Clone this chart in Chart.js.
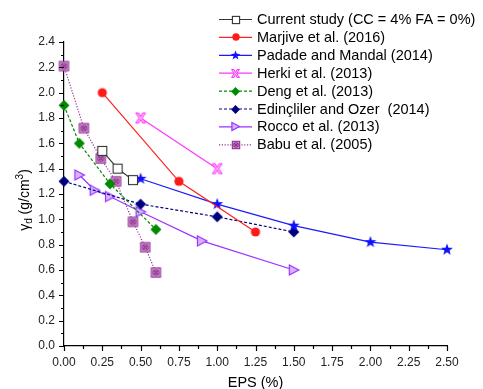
<!DOCTYPE html>
<html>
<head>
<meta charset="utf-8">
<script src="https://cdn.jsdelivr.net/npm/chart.js@4.4.0/dist/chart.umd.min.js"></script>
<style>
    html, body { margin: 0; padding: 0; background: #fff; }
</style>
</head>
<body>
<canvas id="myChart" width="483" height="389"></canvas>
<script>
// values (EPS %, dry unit weight g/cm3)
var currentX = [0.25, 0.35, 0.45];
var currentY = [1.54, 1.40, 1.31];
var marjiveX = [0.25, 0.75, 1.25];
var marjiveY = [2.00, 1.30, 0.90];
var padadeX = [0.5, 1.0, 1.5, 2.0, 2.5];
var padadeY = [1.32, 1.12, 0.95, 0.82, 0.76];
var herkiX = [0.5, 1.0];
var herkiY = [1.80, 1.40];
var dengX = [0, 0.1, 0.3, 0.6];
var dengY = [1.90, 1.60, 1.28, 0.92];
var edinX = [0, 0.5, 1.0, 1.5];
var edinY = [1.30, 1.12, 1.02, 0.90];
var roccoX = [0.1, 0.2, 0.3, 0.5, 0.9, 1.5];
var roccoY = [1.35, 1.23, 1.18, 1.06, 0.83, 0.60];
var babuX = [0, 0.13, 0.24, 0.34, 0.45, 0.53, 0.60];
var babuY = [2.21, 1.72, 1.48, 1.30, 0.98, 0.78, 0.58];

var seriesLabels = [
    "Current study (CC = 4% FA = 0%)",
    "Marjive et al. (2016)",
    "Padade and Mandal (2014)",
    "Herki et al. (2013)",
    "Deng et al. (2013)",
    "Edinçliler and Ozer  (2014)",
    "Rocco et al. (2013)",
    "Babu et al. (2005)"
];

var xTicks = [0, 0.25, 0.5, 0.75, 1.0, 1.25, 1.5, 1.75, 2.0, 2.25, 2.5];
var yTicks = [0, 0.2, 0.4, 0.6, 0.8, 1.0, 1.2, 1.4, 1.6, 1.8, 2.0, 2.2, 2.4];

var FONT = '"Liberation Sans", Arial, sans-serif';

function points(xs, ys) {
    return xs.map(function (x, i) { return {x: x, y: ys[i]}; });
}

// small canvases used as point markers
function marker(size, draw) {
    var c = document.createElement('canvas');
    c.width = size; c.height = size;
    var g = c.getContext('2d');
    g.translate(size / 2, size / 2);
    draw(g);
    return c;
}

function markers(s) {
    return {
        square: marker(Math.round(12 * s), function (g) {
            var h = 4.5 * s;
            g.fillStyle = '#fff'; g.strokeStyle = '#333'; g.lineWidth = 1.1;
            g.fillRect(-h, -h, 2 * h, 2 * h); g.strokeRect(-h, -h, 2 * h, 2 * h);
        }),
        circle: marker(Math.round(12 * s), function (g) {
            g.fillStyle = '#ff1a1a';
            g.beginPath(); g.arc(0, 0, 4.6 * s, 0, Math.PI * 2); g.fill();
        }),
        star: marker(Math.round(16 * s), function (g) {
            g.fillStyle = '#1010ff';
            g.beginPath();
            for (var i = 0; i < 10; i++) {
                var r = (i % 2 ? 2.6 : 6.3) * s;
                var a = -Math.PI / 2 + i * Math.PI / 5;
                g.lineTo(r * Math.cos(a), r * Math.sin(a));
            }
            g.closePath(); g.fill();
        }),
        cross: marker(Math.round(14 * s), function (g) {
            var r = 5 * s, w = 1.3 * s;
            g.fillStyle = '#ffb3ff'; g.strokeStyle = '#ff33ff'; g.lineWidth = 1;
            g.beginPath();
            g.moveTo(-r, -r); g.lineTo(-r + 2.4 * w, -r); g.lineTo(0, -w);
            g.lineTo(r - 2.4 * w, -r); g.lineTo(r, -r); g.lineTo(w * 1.2, 0);
            g.lineTo(r, r); g.lineTo(r - 2.4 * w, r); g.lineTo(0, w);
            g.lineTo(-r + 2.4 * w, r); g.lineTo(-r, r); g.lineTo(-w * 1.2, 0);
            g.closePath(); g.fill(); g.stroke();
        }),
        diamondGreen: marker(Math.round(14 * s), function (g) {
            var r = 5.5 * s;
            g.fillStyle = '#008a00';
            g.beginPath(); g.moveTo(0, -r); g.lineTo(r, 0); g.lineTo(0, r); g.lineTo(-r, 0); g.closePath(); g.fill();
        }),
        diamondNavy: marker(Math.round(14 * s), function (g) {
            var r = 5.5 * s;
            g.fillStyle = '#000080';
            g.beginPath(); g.moveTo(0, -r); g.lineTo(r, 0); g.lineTo(0, r); g.lineTo(-r, 0); g.closePath(); g.fill();
        }),
        triangle: marker(Math.round(14 * s), function (g) {
            g.fillStyle = '#d9b3ff'; g.strokeStyle = '#9933ff'; g.lineWidth = 1.2;
            g.beginPath(); g.moveTo(-4.5 * s, -5 * s); g.lineTo(5 * s, 0); g.lineTo(-4.5 * s, 5 * s); g.closePath();
            g.fill(); g.stroke();
        }),
        boxX: marker(Math.round(13 * s), function (g) {
            var h = 4.6 * s;
            g.fillStyle = '#dba8db'; g.strokeStyle = '#8f2f8f'; g.lineWidth = 1.1;
            g.fillRect(-h, -h, 2 * h, 2 * h); g.strokeRect(-h, -h, 2 * h, 2 * h);
            g.beginPath(); g.arc(0, 0, h * 0.6, 0, Math.PI * 2); g.stroke();
            g.beginPath(); g.moveTo(-h * 0.6, -h * 0.6); g.lineTo(h * 0.6, h * 0.6);
            g.moveTo(h * 0.6, -h * 0.6); g.lineTo(-h * 0.6, h * 0.6); g.stroke();
        })
    };
}

var big = markers(1);
var small = markers(0.8);
var markerKeys = ['square', 'circle', 'star', 'cross', 'diamondGreen', 'diamondNavy', 'triangle', 'boxX'];
var lineColors = ['#333333', '#ff2020', '#1a1aff', '#ff33ff', '#008a00', '#000080', '#9933ff', '#993399'];
var lineDashes = [[], [], [], [], [3, 2], [3, 2], [], [1.2, 1.6]];
var seriesPoints = [
    points(currentX, currentY), points(marjiveX, marjiveY), points(padadeX, padadeY),
    points(herkiX, herkiY), points(dengX, dengY), points(edinX, edinY),
    points(roccoX, roccoY), points(babuX, babuY)
];

var datasets = seriesLabels.map(function (label, i) {
    return {
        label: label,
        data: seriesPoints[i],
        borderColor: lineColors[i],
        backgroundColor: lineColors[i],
        borderWidth: 1.2,
        borderDash: lineDashes[i],
        pointStyle: big[markerKeys[i]],
        legendMarker: small[markerKeys[i]],
        tension: 0,
        clip: false
    };
});

// tick marks (major + minor) along both axes
var tickPlugin = {
    id: 'tickMarks',
    afterDraw: function (chart) {
        var ctx = chart.ctx, xs = chart.scales.x, ys = chart.scales.y;
        var area = chart.chartArea;
        ctx.save();
        ctx.strokeStyle = '#000';
        ctx.lineWidth = 1.2;
        ctx.beginPath();
        for (var i = 0; i <= 20; i++) {
            var px = Math.round(xs.getPixelForValue(i * 0.125)) + 0.5;
            ctx.moveTo(px, area.bottom);
            ctx.lineTo(px, area.bottom + (i % 2 ? 3 : 5));
        }
        for (var j = 0; j <= 24; j++) {
            var py = Math.round(ys.getPixelForValue(j * 0.1)) + 0.5;
            ctx.moveTo(area.left, py);
            ctx.lineTo(area.left - (j % 2 ? 3 : 5), py);
        }
        ctx.stroke();

        // y axis title: gamma_d (g/cm^3)
        ctx.translate(24, (area.top + area.bottom) / 2 + 6);
        ctx.rotate(-Math.PI / 2);
        ctx.fillStyle = '#000';
        ctx.textBaseline = 'alphabetic';
        var parts = [
            {t: 'γ', f: '14px ' + FONT, dy: 0},
            {t: 'd', f: '10px ' + FONT, dy: 3},
            {t: ' (g/cm', f: '14px ' + FONT, dy: 0},
            {t: '3', f: '10px ' + FONT, dy: -6},
            {t: ')', f: '14px ' + FONT, dy: 0}
        ];
        var total = 0;
        parts.forEach(function (p) { ctx.font = p.f; p.w = ctx.measureText(p.t).width; total += p.w; });
        var x = -total / 2;
        parts.forEach(function (p) { ctx.font = p.f; ctx.fillText(p.t, x, 5 + p.dy); x += p.w; });
        ctx.restore();
    }
};

var legendPlugin = {
    id: 'boxLegend',
    afterDraw: function (chart) {
        var ctx = chart.ctx;
        ctx.save();
        chart.data.datasets.forEach(function (ds, i) {
            var y = 19.5 + i * 17.9;
            ctx.strokeStyle = ds.borderColor;
            ctx.lineWidth = 1.2;
            ctx.setLineDash(ds.borderDash);
            ctx.beginPath(); ctx.moveTo(219, y); ctx.lineTo(252, y); ctx.stroke();
            ctx.setLineDash([]);
            var img = ds.legendMarker;
            ctx.drawImage(img, Math.round(235.5 - img.width / 2), Math.round(y - img.height / 2));
            ctx.fillStyle = '#000';
            ctx.font = '14.5px ' + FONT;
            ctx.textBaseline = 'middle';
            ctx.fillText(ds.label, 257, y + 0.5);
        });
        ctx.restore();
    }
};

var ctx = document.getElementById('myChart').getContext('2d');
var chart = new Chart(ctx, {
    type: 'line',
    data: {datasets: datasets},
    plugins: [tickPlugin, legendPlugin],
    options: {
        responsive: false,
        animation: false,
        layout: {padding: {left: 0, right: 36, top: 42, bottom: 0}},
        plugins: {legend: {display: false}, tooltip: {enabled: false}},
        scales: {
            x: {
                type: 'linear',
                min: 0,
                max: 2.5,
                afterFit: function (scale) { scale.height = 43; },
                afterBuildTicks: function (scale) {
                    scale.ticks = xTicks.map(function (v) { return {value: v}; });
                },
                ticks: {
                    autoSkip: false,
                    maxRotation: 0,
                    padding: 9,
                    color: '#222',
                    font: {family: FONT, size: 12},
                    callback: function (v) { return v.toFixed(2); }
                },
                grid: {display: false, drawTicks: false},
                border: {display: true, color: '#000', width: 1.2},
                title: {
                    display: true,
                    text: 'EPS (%)',
                    color: '#000',
                    font: {family: FONT, size: 14.5},
                    padding: {top: 0, bottom: -3}
                }
            },
            y: {
                min: 0,
                max: 2.4,
                afterFit: function (scale) { scale.width = 64; },
                afterBuildTicks: function (scale) {
                    scale.ticks = yTicks.map(function (v) { return {value: v}; });
                },
                ticks: {
                    autoSkip: false,
                    padding: 9,
                    color: '#222',
                    font: {family: FONT, size: 12},
                    callback: function (v) { return v.toFixed(1); }
                },
                grid: {display: false, drawTicks: false},
                border: {display: true, color: '#000', width: 1.2}
            }
        }
    }
});
</script>
</body>
</html>
